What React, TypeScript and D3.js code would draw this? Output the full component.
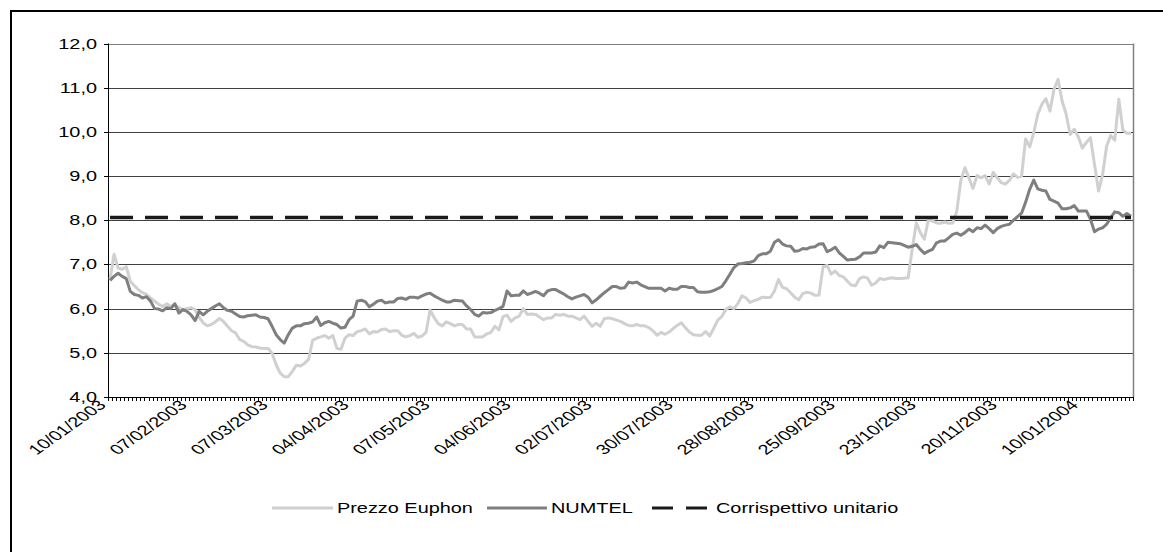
import React, { useEffect, useRef } from "react";
import * as d3 from "d3";

const euphon: number[] = [
  6.66, 7.23, 6.92, 6.89, 6.95, 6.62, 6.52, 6.43, 6.36, 6.32,
  6.24, 6.17, 6.10, 6.05, 6.11, 6.05, 6.09, 6.02, 5.98, 6.00,
  6.02, 5.98, 5.80, 5.68, 5.61, 5.64, 5.70, 5.78, 5.71, 5.60,
  5.50, 5.45, 5.30, 5.26, 5.18, 5.14, 5.13, 5.11, 5.10, 5.10,
  4.99, 4.73, 4.54, 4.46, 4.46, 4.58, 4.72, 4.70, 4.76, 4.85,
  5.28, 5.33, 5.36, 5.39, 5.33, 5.39, 5.10, 5.08, 5.33, 5.41,
  5.39, 5.48, 5.50, 5.54, 5.43, 5.48, 5.47, 5.53, 5.54, 5.48,
  5.50, 5.50, 5.40, 5.36, 5.39, 5.44, 5.35, 5.38, 5.46, 5.97,
  5.80, 5.66, 5.61, 5.70, 5.66, 5.61, 5.64, 5.64, 5.54, 5.54,
  5.36, 5.36, 5.36, 5.43, 5.46, 5.60, 5.52, 5.82, 5.85, 5.71,
  5.79, 5.83, 6.00, 5.87, 5.88, 5.87, 5.81, 5.75, 5.79, 5.79,
  5.87, 5.85, 5.87, 5.83, 5.83, 5.79, 5.75, 5.83, 5.71, 5.60,
  5.67, 5.60, 5.77, 5.79, 5.77, 5.74, 5.71, 5.66, 5.62, 5.61,
  5.64, 5.61, 5.61, 5.57, 5.50, 5.40, 5.46, 5.42, 5.47, 5.55,
  5.62, 5.68, 5.57, 5.47, 5.41, 5.40, 5.40, 5.48, 5.38, 5.55,
  5.74, 5.82, 5.98, 6.04, 6.00, 6.12, 6.29, 6.24, 6.14, 6.18,
  6.21, 6.26, 6.25, 6.25, 6.40, 6.66, 6.48, 6.45, 6.36, 6.26,
  6.20, 6.34, 6.37, 6.35, 6.30, 6.31, 6.95, 6.98, 6.78, 6.85,
  6.75, 6.72, 6.62, 6.53, 6.52, 6.68, 6.72, 6.69, 6.53, 6.58,
  6.68, 6.66, 6.68, 6.70, 6.68, 6.68, 6.69, 6.70, 7.34, 7.94,
  7.72, 7.57, 8.02, 7.98, 7.94, 7.93, 7.96, 7.93, 7.94, 8.20,
  8.90, 9.19, 8.96, 8.72, 9.01, 8.96, 9.01, 8.82, 9.08, 8.96,
  8.85, 8.82, 8.90, 9.05, 8.97, 9.00, 9.84, 9.66, 9.98, 10.40,
  10.62, 10.75, 10.47, 10.96, 11.19, 10.70, 10.40, 9.94, 10.06, 9.89,
  9.63, 9.76, 9.87, 9.26, 8.66, 9.04, 9.68, 9.92, 9.81, 10.74,
  10.04, 9.97, 9.97,
];

const numtel: number[] = [
  6.64, 6.73, 6.80, 6.73, 6.68, 6.39, 6.32, 6.30, 6.24, 6.27,
  6.17, 6.00, 5.99, 5.95, 6.02, 6.00, 6.11, 5.90, 5.98, 5.94,
  5.86, 5.73, 5.94, 5.86, 5.94, 6.00, 6.06, 6.11, 6.02, 5.96,
  5.94, 5.88, 5.82, 5.81, 5.84, 5.85, 5.86, 5.81, 5.80, 5.77,
  5.60, 5.41, 5.30, 5.22, 5.41, 5.56, 5.61, 5.61, 5.66, 5.67,
  5.70, 5.81, 5.62, 5.68, 5.71, 5.67, 5.64, 5.56, 5.58, 5.75,
  5.83, 6.17, 6.19, 6.16, 6.04, 6.10, 6.17, 6.19, 6.13, 6.15,
  6.15, 6.23, 6.24, 6.21, 6.26, 6.26, 6.24, 6.29, 6.33, 6.35,
  6.29, 6.24, 6.19, 6.15, 6.15, 6.19, 6.18, 6.17, 6.06, 5.98,
  5.87, 5.83, 5.91, 5.90, 5.91, 5.96, 6.00, 6.05, 6.40, 6.29,
  6.30, 6.30, 6.40, 6.32, 6.35, 6.39, 6.35, 6.29, 6.40, 6.43,
  6.43, 6.38, 6.33, 6.27, 6.22, 6.26, 6.29, 6.32, 6.26, 6.13,
  6.20, 6.28, 6.36, 6.43, 6.50, 6.50, 6.46, 6.47, 6.60, 6.58,
  6.60, 6.54, 6.50, 6.46, 6.46, 6.46, 6.46, 6.40, 6.46, 6.44,
  6.44, 6.50, 6.50, 6.48, 6.48, 6.38, 6.37, 6.37, 6.38, 6.41,
  6.45, 6.50, 6.63, 6.78, 6.93, 7.01, 7.02, 7.04, 7.05, 7.08,
  7.20, 7.24, 7.24, 7.30, 7.50, 7.56, 7.46, 7.42, 7.41, 7.30,
  7.31, 7.36, 7.35, 7.39, 7.40, 7.46, 7.47, 7.29, 7.33, 7.39,
  7.26, 7.18, 7.10, 7.11, 7.12, 7.17, 7.26, 7.26, 7.26, 7.28,
  7.42, 7.38, 7.50, 7.49, 7.48, 7.47, 7.43, 7.39, 7.41, 7.45,
  7.34, 7.25, 7.30, 7.34, 7.49, 7.53, 7.53, 7.60, 7.68, 7.71,
  7.66, 7.72, 7.80, 7.74, 7.83, 7.81, 7.89, 7.81, 7.72, 7.81,
  7.86, 7.89, 7.91, 8.00, 8.08, 8.16, 8.41, 8.70, 8.91, 8.71,
  8.68, 8.66, 8.47, 8.43, 8.39, 8.26, 8.26, 8.28, 8.33, 8.21,
  8.21, 8.21, 8.02, 7.74, 7.80, 7.83, 7.91, 8.06, 8.19, 8.17,
  8.09, 8.15, 8.09,
];

const corrispettivo = 8.06;

const dateLabels: string[] = [
  "10/01/2003", "07/02/2003", "07/03/2003", "04/04/2003", "07/05/2003",
  "04/06/2003", "02/07/2003", "30/07/2003", "28/08/2003", "25/09/2003",
  "23/10/2003", "20/11/2003", "10/01/2004",
];
const labelEvery = 20;

const yTicks: number[] = [4, 5, 6, 7, 8, 9, 10, 11, 12];

const seriesNames = ["Prezzo Euphon", "NUMTEL", "Corrispettivo unitario"];

const W = 1163;
const H = 552;
const FONT = "'Liberation Sans', Arial, sans-serif";
const SX = 1.42; // horizontal stretch of the lettering

export default function App() {
  const ref = useRef<SVGSVGElement | null>(null);

  useEffect(() => {
    const svg = d3.select(ref.current);
    svg.selectAll("*").remove();

    const left = 108, right = 1133, top = 43.5, bottom = 397;
    const n = euphon.length;
    const idx = d3.range(n);
    const x = d3.scaleBand<number>().domain(idx).range([left, right]).padding(0);
    const cx = (i: number) => (x(i) as number) + x.bandwidth() / 2;
    const y = d3.scaleLinear().domain([4, 12]).range([bottom, top]);

    // outer border (left and top visible)
    svg.append("rect")
      .attr("x", 11).attr("y", 11).attr("width", W + 20).attr("height", H + 20)
      .attr("fill", "none").attr("stroke", "#000").attr("stroke-width", 2);

    const g = svg.append("g");
    g.selectAll("line.grid").data(yTicks.filter((t) => t > 4)).enter().append("line")
      .attr("x1", left).attr("x2", right)
      .attr("y1", (d) => Math.round(y(d)) + 0.5).attr("y2", (d) => Math.round(y(d)) + 0.5)
      .attr("stroke", (d) => (d === 12 ? "#808080" : "#404040")).attr("stroke-width", 1);
    g.append("line").attr("x1", right + 0.5).attr("x2", right + 0.5)
      .attr("y1", y(12)).attr("y2", bottom).attr("stroke", "#808080").attr("stroke-width", 1.5);

    // y axis
    g.append("line").attr("x1", left + 0.5).attr("x2", left + 0.5)
      .attr("y1", y(12)).attr("y2", bottom).attr("stroke", "#000").attr("stroke-width", 1);
    g.selectAll("line.ytick").data(yTicks).enter().append("line")
      .attr("x1", left - 4).attr("x2", left)
      .attr("y1", (d) => Math.round(y(d)) + 0.5).attr("y2", (d) => Math.round(y(d)) + 0.5)
      .attr("stroke", "#000");
    g.selectAll("text.ylab").data(yTicks).enter().append("text")
      .attr("transform", (d) => `translate(97,${y(d) + 5}) scale(${SX},1)`)
      .attr("text-anchor", "end")
      .attr("font-family", FONT).attr("font-size", 14).attr("fill", "#000")
      .text((d) => d3.format(".1f")(d).replace(".", ","));

    // x axis
    g.append("line").attr("x1", left).attr("x2", right)
      .attr("y1", Math.round(bottom) + 0.5).attr("y2", Math.round(bottom) + 0.5)
      .attr("stroke", "#000");
    const tickPos = idx.map((i) => x(i) as number).concat([right]);
    g.selectAll("line.xtick").data(tickPos).enter().append("line")
      .attr("x1", (d) => Math.round(d) + 0.5).attr("x2", (d) => Math.round(d) + 0.5)
      .attr("y1", bottom).attr("y2", bottom + 4)
      .attr("stroke", "#000");
    dateLabels.forEach((lab, k) => {
      const px = cx(k * labelEvery);
      g.append("text")
        .attr("transform", `translate(${px - 3},${bottom + 9}) scale(${SX},1) rotate(-45)`)
        .attr("text-anchor", "end")
        .attr("font-family", FONT).attr("font-size", 14).attr("fill", "#000")
        .text(lab);
    });

    const line = d3.line<number>().x((_, i) => cx(i)).y((d) => y(d));
    g.append("path").datum(euphon).attr("d", line).attr("fill", "none")
      .attr("stroke", "#d0d0d0").attr("stroke-width", 3).attr("stroke-linejoin", "round");
    g.append("path").datum(numtel).attr("d", line).attr("fill", "none")
      .attr("stroke", "#7f7f7f").attr("stroke-width", 3).attr("stroke-linejoin", "round");
    const flat = idx.map(() => corrispettivo);
    g.append("path").datum(flat).attr("d", line).attr("fill", "none")
      .attr("stroke", "#1a1a1a").attr("stroke-width", 3.5).attr("stroke-dasharray", "23,12");

    // legend
    const ly = 508;
    const lg = svg.append("g");
    const items = [
      { x0: 272, x1: 333, tx: 337, color: "#d0d0d0", dash: null as string | null, name: seriesNames[0] },
      { x0: 487, x1: 547, tx: 551, color: "#7f7f7f", dash: null, name: seriesNames[1] },
      { x0: 652, x1: 708, tx: 716, color: "#1a1a1a", dash: "21,13", name: seriesNames[2] },
    ];
    items.forEach((it) => {
      lg.append("line").attr("x1", it.x0).attr("x2", it.x1).attr("y1", ly).attr("y2", ly)
        .attr("stroke", it.color).attr("stroke-width", 3)
        .attr("stroke-dasharray", it.dash);
      lg.append("text").attr("transform", `translate(${it.tx},${ly + 5}) scale(${SX},1)`)
        .attr("font-family", FONT).attr("font-size", 14).attr("fill", "#000")
        .text(it.name);
    });
  }, []);

  return (
    <div style={{ position: "absolute", left: 0, top: 0 }}>
      <svg ref={ref} width={W} height={H} style={{ display: "block", background: "#fff" }} />
    </div>
  );
}
